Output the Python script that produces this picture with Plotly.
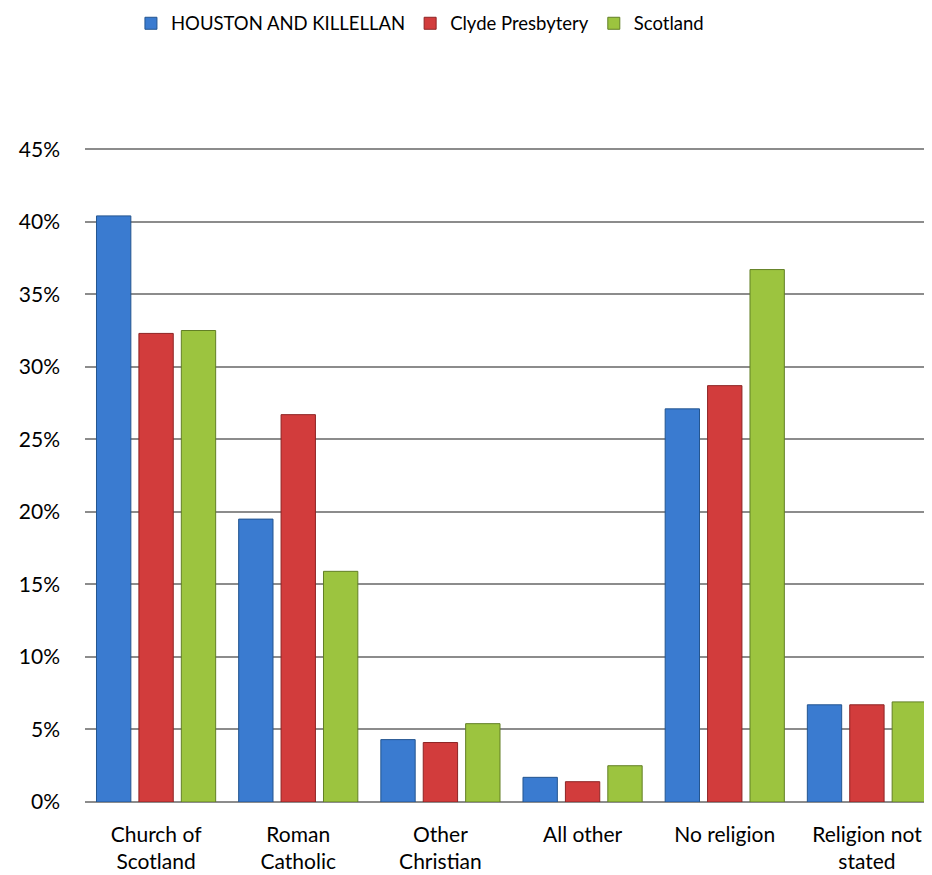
import plotly.graph_objects as go

categories = ["Church of<br>Scotland", "Roman<br>Catholic", "Other<br>Christian",
              "All other", "No religion", "Religion not<br>stated"]
houston = [40.4, 19.5, 4.3, 1.7, 27.1, 6.7]
clyde = [32.3, 26.7, 4.1, 1.4, 28.7, 6.7]
scotland = [32.5, 15.9, 5.4, 2.5, 36.7, 6.9]
series_names = ["HOUSTON AND KILLELLAN", "Clyde Presbytery", "Scotland"]
tick_vals = [0, 5, 10, 15, 20, 25, 30, 35, 40, 45]
tick_text = [f"{v}%" for v in tick_vals]

colors = ["#3a7bd0", "#d23c3c", "#9cc43f"]
edges = ["#24558f", "#8e2424", "#627f25"]

fig = go.Figure()
for name, vals, c, e in zip(series_names, [houston, clyde, scotland], colors, edges):
    fig.add_trace(go.Bar(
        x=categories, y=vals, name=name,
        marker=dict(color=c, line=dict(color=e, width=1)),
    ))

fig.update_layout(
    width=932, height=875,
    barmode="group", bargap=0.105, bargroupgap=0.19,
    plot_bgcolor="white", paper_bgcolor="white",
    margin=dict(l=77, r=2, t=140, b=81),
    font=dict(family="Lato, Open Sans, sans-serif", size=21, color="black"),
    legend=dict(orientation="h", x=0.442, xanchor="center", xref="container",
                y=0.982, yanchor="middle", yref="container",
                font=dict(size=18.5), itemwidth=30, traceorder="normal"),
    xaxis=dict(showgrid=False, showline=False, ticks="", tickfont=dict(size=21),
               automargin=False, ticklabelstandoff=18),
    yaxis=dict(range=[0, 45.08], tickvals=tick_vals, ticktext=tick_text,
               showgrid=True, gridcolor="#8c8c8c", gridwidth=1.5,
               zeroline=True, zerolinecolor="#8c8c8c", zerolinewidth=1.5,
               showline=False, ticks="", ticklen=0, tickfont=dict(size=21),
               automargin=False, ticklabelstandoff=24),
)
fig.write_html("out.html")
